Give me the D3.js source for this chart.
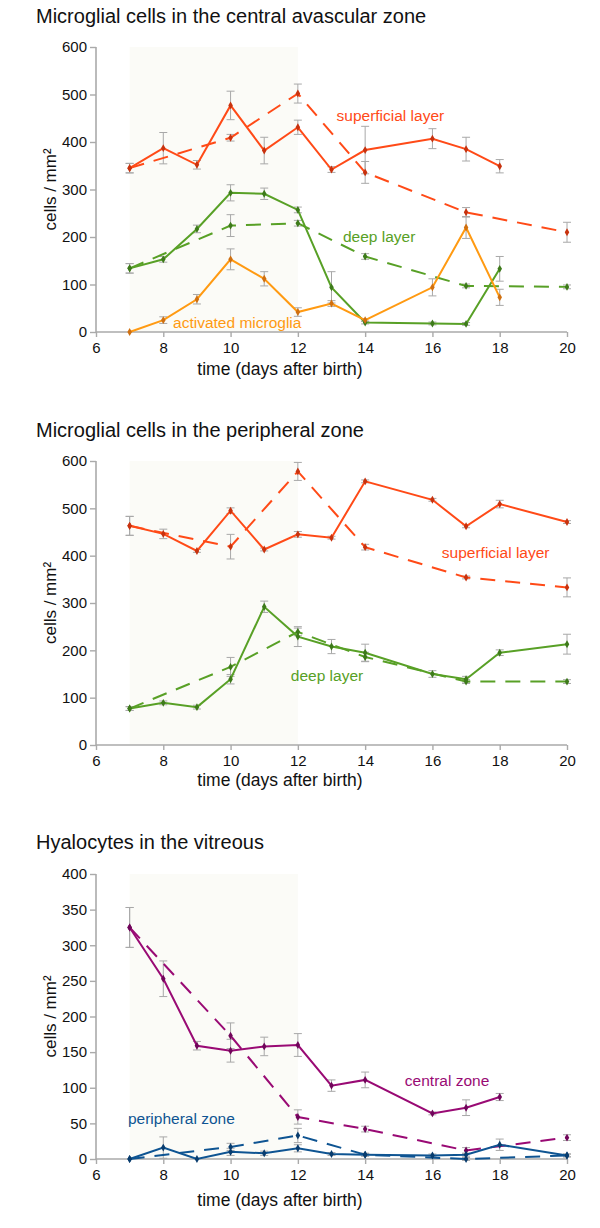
<!DOCTYPE html>
<meta charset="utf-8">
<script src="https://d3js.org/d3.v7.min.js"></script>
<style>
  body { margin: 0; background: #fff; }
  text { font-family: "Liberation Sans", Arial, sans-serif; }
</style>
<div id="chart"></div>
<script>
// days measured
var daysA = [7, 8, 9, 10, 11, 12, 13, 14, 16, 17, 18];
var daysB = [7, 10, 12, 14, 17, 20];
var daysC = [7, 8, 9, 10, 11, 12, 13, 14, 16, 17, 18, 20];
var xTicks = [6, 8, 10, 12, 14, 16, 18, 20];

// panel 1: central avascular zone
var centralSup = [345, 387, 352, 477, 382, 431, 342, 383, 407, 385, 349];
var centralSupErr = [10, 33, 9, 30, 28, 15, 6, 50, 21, 25, 14];
var centralSupD = [345, 409, 502, 336, 252, 210];
var centralSupDErr = [10, 7, 20, 23, 10, 21];
var centralDeep = [134, 153, 217, 293, 291, 257, 94, 20, 18, 17, 133];
var centralDeepErr = [10, 6, 8, 17, 12, 6, 33, 3, 3, 3, 26];
var centralDeepD = [134, 224, 229, 159, 97, 95];
var centralDeepDErr = [10, 23, 6, 6, 4, 4];
var centralAct = [0, 25, 69, 153, 112, 42, 60, 25, 94, 220, 73];
var centralActErr = [0, 7, 10, 22, 15, 9, 6, 3, 18, 23, 17];

// panel 2: peripheral zone
var periSup = [463, 446, 410, 495, 413, 445, 438, 557, 518, 462, 509, 471];
var periSupErr = [20, 10, 3, 6, 3, 6, 3, 3, 3, 3, 8, 3];
var periSupD = [463, 419, 578, 418, 354, 333];
var periSupDErr = [20, 26, 19, 6, 3, 20];
var periDeep = [77, 89, 80, 139, 292, 229, 208, 195, 150, 139, 195, 213];
var periDeepErr = [4, 4, 4, 10, 12, 21, 15, 18, 7, 6, 6, 21];
var periDeepD = [77, 165, 239, 186, 134, 134];
var periDeepDErr = [4, 20, 8, 10, 4, 4];

// panel 3: hyalocytes
var hyaCentral = [325, 253, 159, 152, 158, 160, 103, 111, 64, 72, 87];
var hyaCentralErr = [28, 25, 6, 16, 13, 16, 8, 11, 2, 11, 5];
var hyaCentralD = [325, 173, 59, 42, 12, 30];
var hyaCentralDErr = [28, 18, 10, 4, 4, 4];
var hyaPeri = [0, 16, 0, 10, 8, 15, 7, 6, 5, 6, 20, 5];
var hyaPeriErr = [0, 15, 0, 5, 3, 5, 2, 2, 2, 2, 8, 2];
var hyaPeriD = [0, 17, 33, 6, 0, 5];
var hyaPeriDErr = [0, 5, 10, 2, 2, 2];

var red = "#ff4a17", redDark = "#c8320e";
var green = "#58a026", greenDark = "#3d7a1a";
var orange = "#ff9a12", orangeDark = "#d07010";
var purple = "#990a74", purpleDark = "#70055a";
var blue = "#0e5492", blueDark = "#083c6e";

function series(days, vals, errs, color, dark, dashed) {
  return days.map(function(d, i) { return {day: d, v: vals[i], e: errs[i]}; })
    .map(function(p) { p.color = color; p.dark = dark; p.dashed = dashed; return p; });
}

var panels = [
  {
    title: "Microglial cells in the central avascular zone", titleY: 23,
    top: 47, bottom: 332, yMax: 600, yTicks: [0, 100, 200, 300, 400, 500, 600], xLabelY: 375,
    series: [
      series(daysB, centralSupD, centralSupDErr, red, redDark, true),
      series(daysB, centralDeepD, centralDeepDErr, green, greenDark, true),
      series(daysA, centralSup, centralSupErr, red, redDark, false),
      series(daysA, centralDeep, centralDeepErr, green, greenDark, false),
      series(daysA, centralAct, centralActErr, orange, orangeDark, false)
    ],
    notes: [
      {text: "superficial layer", day: 13.15, v: 445, color: red},
      {text: "deep layer", day: 13.34, v: 190, color: green},
      {text: "activated microglia", day: 8.29, v: 8, color: orange}
    ]
  },
  {
    title: "Microglial cells in the peripheral zone", titleY: 437,
    top: 461, bottom: 745, yMax: 600, yTicks: [0, 100, 200, 300, 400, 500, 600], xLabelY: 786,
    series: [
      series(daysB, periSupD, periSupDErr, red, redDark, true),
      series(daysB, periDeepD, periDeepDErr, green, greenDark, true),
      series(daysC, periSup, periSupErr, red, redDark, false),
      series(daysC, periDeep, periDeepErr, green, greenDark, false)
    ],
    notes: [
      {text: "superficial layer", day: 16.28, v: 395, color: red},
      {text: "deep layer", day: 11.79, v: 135, color: green}
    ]
  },
  {
    title: "Hyalocytes in the vitreous", titleY: 849,
    top: 874, bottom: 1159, yMax: 400, yTicks: [0, 50, 100, 150, 200, 250, 300, 350, 400], xLabelY: 1206,
    series: [
      series(daysB, hyaCentralD, hyaCentralDErr, purple, purpleDark, true),
      series(daysB, hyaPeriD, hyaPeriDErr, blue, blueDark, true),
      series(daysA, hyaCentral, hyaCentralErr, purple, purpleDark, false),
      series(daysC, hyaPeri, hyaPeriErr, blue, blueDark, false)
    ],
    notes: [
      {text: "central zone", day: 15.18, v: 102, color: purple},
      {text: "peripheral zone", day: 6.95, v: 49, color: blue}
    ]
  }
];

var svg = d3.select("#chart").append("svg")
  .attr("width", 600)
  .attr("height", 1228)
  .style("background", "#fff");

var x = d3.scaleLinear().domain([6, 20]).range([96, 567]);

panels.forEach(function(p) {
  var y = d3.scaleLinear().domain([0, p.yMax]).range([p.bottom, p.top]);
  var g = svg.append("g");

  // title
  g.append("text")
    .attr("x", 36).attr("y", p.titleY)
    .style("font-size", "20px").style("fill", "#111")
    .text(p.title);

  // shaded days 7-12
  g.append("rect")
    .attr("x", x(7)).attr("y", y(p.yMax))
    .attr("width", x(12) - x(7)).attr("height", y(0) - y(p.yMax))
    .style("fill", "#fbfbf7");

  // axes
  var yAxis = g.append("g")
    .attr("transform", "translate(" + x(6) + ",0)")
    .call(d3.axisLeft(y).tickValues(p.yTicks).tickSize(6).tickPadding(3));
  var xAxis = g.append("g")
    .attr("transform", "translate(0," + y(0) + ")")
    .call(d3.axisBottom(x).tickValues(xTicks).tickSize(5).tickPadding(5));
  [yAxis, xAxis].forEach(function(a) {
    a.select(".domain").attr("stroke", "#aaa").attr("stroke-width", 1.6);
    a.selectAll(".tick line").attr("stroke", "#aaa").attr("stroke-width", 1.4);
    a.selectAll(".tick text").style("font-size", "15px").style("fill", "#111")
      .style("font-family", "'Liberation Sans', Arial, sans-serif");
  });
  yAxis.select(".domain").attr("d", "M0," + y(p.yMax) + "V" + y(0));
  xAxis.select(".domain").attr("d", "M" + x(6) + ",0H" + x(20));

  // axis labels
  g.append("text")
    .attr("transform", "translate(50," + ((p.top + p.bottom) / 2) + ") rotate(-90)")
    .attr("text-anchor", "middle").attr("dy", "0.35em")
    .style("font-size", "17px").style("fill", "#111")
    .text("cells / mm²");
  g.append("text")
    .attr("x", 280).attr("y", p.xLabelY)
    .attr("text-anchor", "middle")
    .style("font-size", "17.5px").style("fill", "#111")
    .text("time (days after birth)");

  // error bars
  var all = [].concat.apply([], p.series).filter(function(d) { return d.e > 0; });
  var eb = g.append("g").selectAll("g").data(all).enter().append("g")
    .style("stroke", "#a8a8a8").style("stroke-width", 1);
  eb.append("line")
    .attr("x1", function(d) { return x(d.day); }).attr("x2", function(d) { return x(d.day); })
    .attr("y1", function(d) { return y(d.v + d.e); }).attr("y2", function(d) { return y(d.v - d.e); });
  eb.append("line")
    .attr("x1", function(d) { return x(d.day) - 4; }).attr("x2", function(d) { return x(d.day) + 4; })
    .attr("y1", function(d) { return y(d.v + d.e); }).attr("y2", function(d) { return y(d.v + d.e); });
  eb.append("line")
    .attr("x1", function(d) { return x(d.day) - 4; }).attr("x2", function(d) { return x(d.day) + 4; })
    .attr("y1", function(d) { return y(d.v - d.e); }).attr("y2", function(d) { return y(d.v - d.e); });

  // lines
  var line = d3.line().x(function(d) { return x(d.day); }).y(function(d) { return y(d.v); });
  p.series.forEach(function(s) {
    g.append("path")
      .datum(s)
      .attr("d", line)
      .style("fill", "none")
      .style("stroke", s[0].color)
      .style("stroke-width", 2)
      .style("stroke-dasharray", s[0].dashed ? "15,10" : null);
  });

  // markers
  p.series.forEach(function(s) {
    g.append("g").selectAll("path").data(s).enter().append("path")
      .attr("transform", function(d) { return "translate(" + x(d.day) + "," + y(d.v) + ")"; })
      .attr("d", d3.symbol().type(d3.symbolDiamond).size(18))
      .style("fill", function(d) { return d.dark; });
  });

  // series labels
  g.selectAll(".note").data(p.notes).enter().append("text")
    .attr("x", function(d) { return x(d.day); })
    .attr("y", function(d) { return y(d.v); })
    .style("font-size", "15.5px")
    .style("fill", function(d) { return d.color; })
    .text(function(d) { return d.text; });
});
</script>
